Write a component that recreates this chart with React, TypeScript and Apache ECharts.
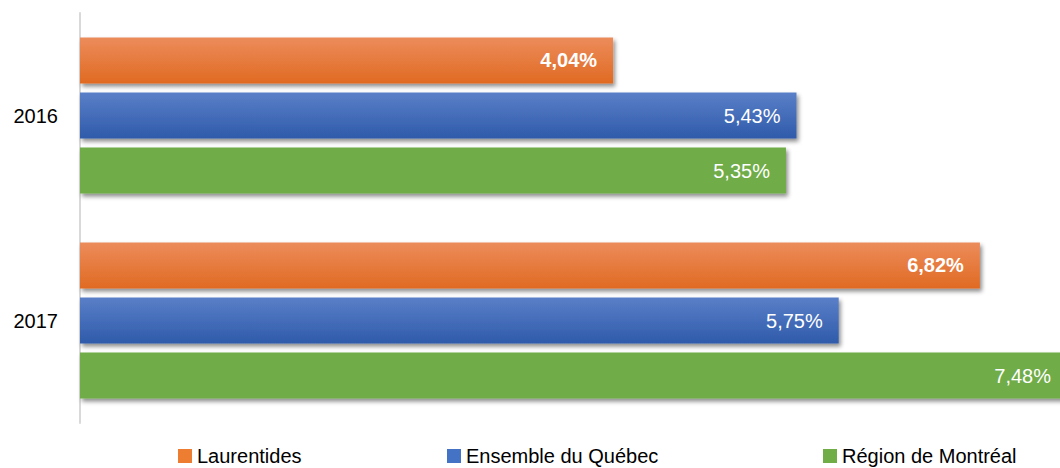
import React, { useEffect, useRef } from "react";
import * as echarts from "echarts";

const years = ["2016", "2017"];
const seriesNames = ["Laurentides", "Ensemble du Québec", "Région de Montréal"];
const laurentides = [4.04, 6.82];
const quebec = [5.43, 5.75];
const montreal = [5.35, 7.48];

const FONT = "'Liberation Sans', Arial, sans-serif";

function fmt(v: number) {
  return v.toFixed(2).replace(".", ",") + "%";
}

export default function App() {
  const ref = useRef<HTMLDivElement>(null);
  useEffect(() => {
    if (!ref.current) return;
    const chart = echarts.init(ref.current, undefined, { renderer: "svg" });
    const shadow = {
      shadowColor: "rgba(0,0,0,0.45)",
      shadowBlur: 4,
      shadowOffsetX: 2,
      shadowOffsetY: 3,
    };
    const grad = (top: string, bottom: string) =>
      new echarts.graphic.LinearGradient(0, 0, 0, 1, [
        { offset: 0, color: top },
        { offset: 1, color: bottom },
      ]);
    const colors = [
      grad("#EC8C5B", "#E06A22"),
      grad("#5A7FC8", "#2F5BAA"),
      "#6FAC46",
    ];
    const legendColors = ["#ED7D31", "#4472C4", "#70AD47"];
    const datas = [laurentides, quebec, montreal];
    const legendLefts = [178, 447, 823];
    chart.setOption({
      animation: false,
      grid: { left: 80, right: 0, top: 13, bottom: 45, containLabel: false },
      xAxis: {
        type: "value",
        min: 0,
        max: 7.48,
        show: false,
        splitLine: { show: false },
      },
      yAxis: {
        type: "category",
        inverse: true,
        data: years,
        axisLine: { show: true, lineStyle: { color: "#D9D9D9", width: 2 } },
        axisTick: { show: false },
        axisLabel: {
          color: "#000",
          fontFamily: FONT,
          fontSize: 20,
          margin: 22,
        },
      },
      legend: seriesNames.map((n, i) => ({
        data: [{ name: n, itemStyle: { color: legendColors[i] } }],
        left: legendLefts[i],
        top: 446,
        icon: "rect",
        itemWidth: 14,
        itemHeight: 14,
        itemGap: 0,
        padding: 0,
        selectedMode: false,
        textStyle: {
          color: "#000",
          fontFamily: FONT,
          fontSize: 20,
          padding: [0, 0, 0, 0],
        },
      })),
      series: seriesNames.map((n, i) => ({
        name: n,
        type: "bar",
        data: datas[i],
        barWidth: 46,
        barGap: "19.6%",
        itemStyle: { color: colors[i], ...shadow },
        label: {
          show: true,
          position: "insideRight",
          distance: 16,
          color: "#fff",
          fontFamily: FONT,
          fontSize: 20,
          fontWeight: i === 0 ? "bold" : "normal",
          formatter: (p: any) => fmt(p.value),
        },
      })),
    });
    return () => chart.dispose();
  }, []);
  return (
    <div
      style={{ position: "fixed", left: 0, top: 0, width: 1060, height: 468, overflow: "hidden", background: "#fff" }}
    >
      <div ref={ref} style={{ width: 1067, height: 468 }} />
    </div>
  );
}
